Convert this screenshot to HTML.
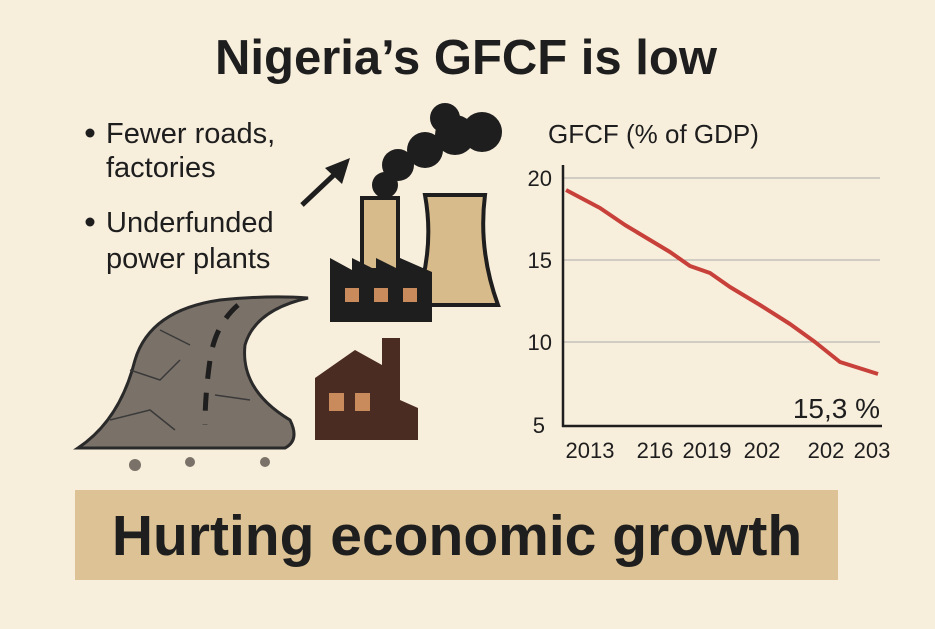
<!DOCTYPE html>
<html><head><meta charset="utf-8"><style>
body{margin:0;width:935px;height:624px;background:#f8eedc;overflow:hidden;font-family:"Liberation Sans",sans-serif;}
</style></head><body>
<svg width="935" height="624" viewBox="0 0 935 624" xmlns="http://www.w3.org/2000/svg" font-family="Liberation Sans, sans-serif">
<rect width="935" height="624" fill="#f8eedc"/>
<text x="466" y="74" text-anchor="middle" font-size="49" font-weight="bold" fill="#1e1e1e">Nigeria’s GFCF is low</text>
<g font-size="29" fill="#1e1e1e">
<circle cx="90" cy="133" r="4.5"/>
<text x="106" y="143">Fewer roads,</text>
<text x="106" y="177">factories</text>
<circle cx="90" cy="222" r="4.5"/>
<text x="106" y="232">Underfunded</text>
<text x="106" y="268">power plants</text>
</g>
<line x1="302" y1="205" x2="337" y2="172" stroke="#1e1e1e" stroke-width="5"/>
<polygon points="350,158 325,168 342,184" fill="#1e1e1e"/>
<g fill="#1e1e1e">
<circle cx="385" cy="185" r="13"/><circle cx="398" cy="165" r="16"/><circle cx="425" cy="150" r="18"/>
<circle cx="455" cy="135" r="20"/><circle cx="482" cy="132" r="20"/><circle cx="445" cy="118" r="15"/>
</g>
<rect x="362" y="198" width="36" height="72" fill="#d8bb8a" stroke="#1e1e1e" stroke-width="4"/>
<path d="M425 195 L485 195 Q478 250 498 305 L415 305 Q435 250 425 195Z" fill="#d8bb8a" stroke="#1e1e1e" stroke-width="4"/>
<path d="M330 322 L330 258 L352 270 L352 258 L376 270 L376 258 L400 270 L400 258 L432 272 L432 322Z" fill="#1e1e1e"/>
<rect x="345" y="288" width="14" height="14" fill="#c98a5c"/><rect x="374" y="288" width="14" height="14" fill="#c98a5c"/><rect x="403" y="288" width="14" height="14" fill="#c98a5c"/>
<path d="M315 440 L315 378 L355 350 L382 365 L382 338 L400 338 L400 400 L418 408 L418 440Z" fill="#4a2c22"/>
<rect x="329" y="393" width="15" height="18" fill="#c98a5c"/><rect x="355" y="393" width="15" height="18" fill="#c98a5c"/>
<path d="M78 448 Q120 420 135 360 Q150 310 220 300 Q270 295 308 298 Q255 310 245 345 Q240 390 290 420 Q300 440 285 448 Z" fill="#7a7168" stroke="#2a2a2a" stroke-width="3"/>
<path d="M238 305 Q215 325 210 360 Q205 395 205 425" fill="none" stroke="#1e1e1e" stroke-width="5" stroke-dasharray="18 14"/>
<path d="M130 370 L160 380 L180 360 M110 420 L150 410 L175 430 M215 395 L250 400 M160 330 L190 345" stroke="#3a3a3a" stroke-width="1.5" fill="none"/>
<circle cx="135" cy="465" r="6" fill="#7a7168"/><circle cx="190" cy="462" r="5" fill="#7a7168"/><circle cx="265" cy="462" r="5" fill="#7a7168"/>
<text x="548" y="143" font-size="26" fill="#1e1e1e">GFCF (% of GDP)</text>
<g stroke="#aaa" stroke-width="1">
<line x1="563" y1="178" x2="880" y2="178"/><line x1="563" y1="260" x2="880" y2="260"/><line x1="563" y1="342" x2="880" y2="342"/>
</g>
<line x1="563" y1="165" x2="563" y2="427" stroke="#1e1e1e" stroke-width="2.5"/>
<line x1="562" y1="426" x2="882" y2="426" stroke="#1e1e1e" stroke-width="2.5"/>
<g font-size="22" fill="#1e1e1e" text-anchor="end">
<text x="552" y="186">20</text><text x="552" y="268">15</text><text x="552" y="350">10</text><text x="545" y="433">5</text>
</g>
<g font-size="22" fill="#1e1e1e" text-anchor="middle">
<text x="590" y="458">2013</text><text x="655" y="458">216</text><text x="707" y="458">2019</text><text x="762" y="458">202</text><text x="826" y="458">202</text><text x="872" y="458">203</text>
</g>
<polyline points="566,190 600,208 625,225 650,240 670,252 690,266 710,273 730,287 760,305 790,324 815,342 840,362 878,374" fill="none" stroke="#c8403a" stroke-width="4" stroke-linejoin="round"/>
<text x="880" y="418" text-anchor="end" font-size="28" fill="#1e1e1e">15,3 %</text>
<rect x="75" y="490" width="763" height="90" fill="#dcc294"/>
<text x="457" y="555" text-anchor="middle" font-size="57" font-weight="bold" fill="#1e1e1e">Hurting economic growth</text>
</svg>
</body></html>
